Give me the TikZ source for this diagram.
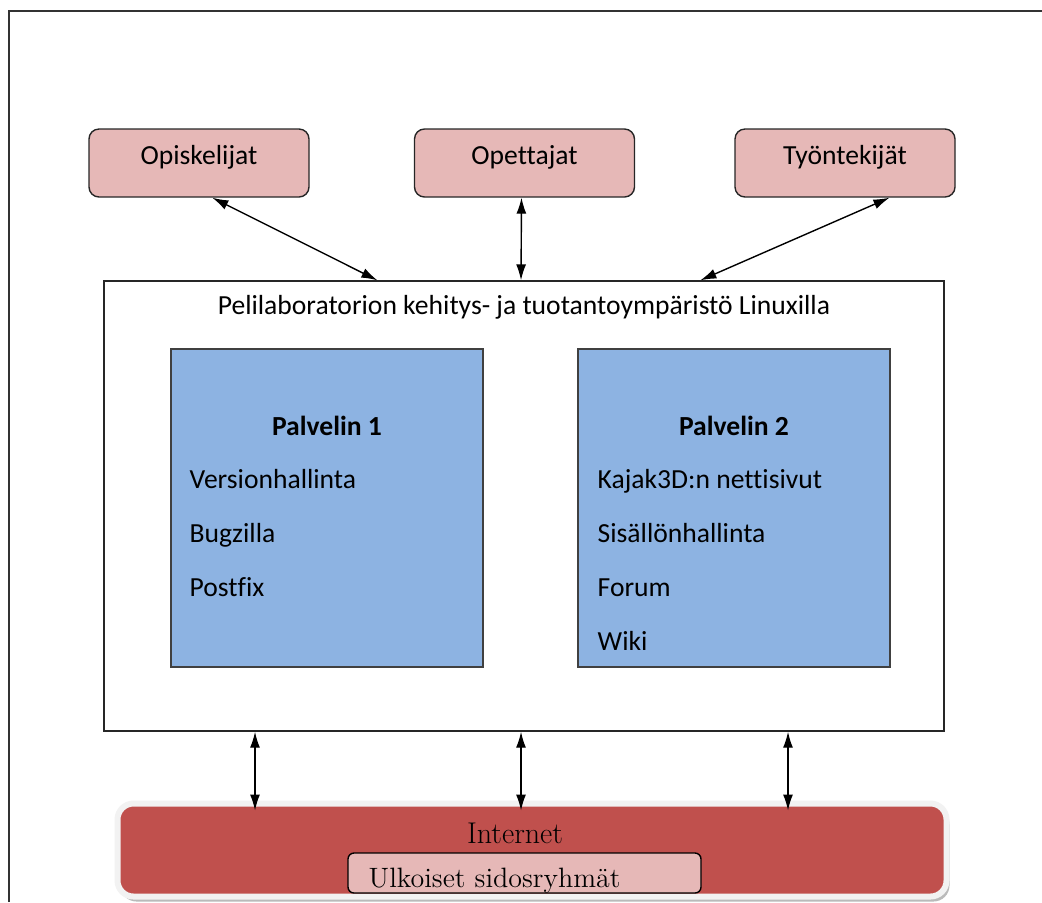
\documentclass[tikz,border=0pt]{standalone}
\usepackage{fontspec}
\setsansfont{Carlito}[Ligatures=NoCommon]
\usetikzlibrary{arrows.meta,shadows}
\definecolor{rose}{HTML}{E6B8B7}
\definecolor{srvblue}{HTML}{8DB3E2}
\definecolor{netred}{HTML}{C0504D}
\newcommand\labfont{\sffamily\fontsize{13.8}{16}\selectfont}
\begin{document}
\begin{tikzpicture}[x=0.5pt,y=-0.5pt,>={Latex[length=8pt,width=5pt]},line width=0.7pt,
    group/.style={draw=black!85, fill=rose, rounded corners=5pt, minimum width=110pt, minimum height=34pt, text height=9.5pt, text depth=8pt, font=\labfont},
    platform/.style={draw=black!85, fill=white, minimum width=420pt, minimum height=225pt},
    server/.style={draw=black!75, fill=srvblue, minimum width=156pt, minimum height=159pt},
    item/.style={anchor=base west, inner sep=0pt, font=\labfont},
    net/.style={draw=black!5, line width=3pt, fill=netred, rounded corners=8pt, minimum width=414.5pt, minimum height=46.5pt,
        drop shadow={shadow xshift=1.5pt, shadow yshift=-2.5pt, fill=black!45, opacity=.6}},
    extbox/.style={draw=black, fill=rose, rounded corners=3pt, minimum width=176.5pt, minimum height=20pt}]
    \useasboundingbox (0,0) rectangle (1042,902);
    \draw[line width=1.3pt, black!80] (9,902) -- (9,11) -- (1042,11);

    \node[group] (opisk) at (199,163) {Opiskelijat};
    \node[group] (opett) at (524.5,163) {Opettajat};
    \node[group] (tyont) at (845,163) {Työntekijät};

    \node[platform] (plat) at (524,506) {};
    \node[font=\labfont] (plattitle) at (524,307) {Pelilaboratorion kehitys- ja tuotantoympäristö Linuxilla};

    \node[server] (srv1) at (327,508) {};
    \node[server] (srv2) at (734,508) {};
    \node[item, anchor=base, font=\labfont\bfseries] (srv1title) at (327,435) {Palvelin 1};
    \node[item, anchor=base, font=\labfont\bfseries] (srv2title) at (734,435) {Palvelin 2};
    \foreach \t [count=\i] in {Versionhallinta,Bugzilla,Postfix}
        \node[item] (srv1-\i) at (189,{434+54*\i}) {\t};
    \foreach \t [count=\i] in {Kajak3D:n nettisivut,Sisällönhallinta,Forum,Wiki}
        \node[item] (srv2-\i) at (597,{434+54*\i}) {\t};

    \node[net] (inet) at (532,850) {};
    \node[font=\fontsize{15}{18}\selectfont] (inettitle) at (515,833) {Internet};
    \node[extbox] (ulk) at (524.5,873) {};
    \node[anchor=base west, inner sep=0pt, font=\fontsize{14}{16}\selectfont] (ulktitle) at (368,887) {Ulkoiset sidosryhmät};

    \path[<->] (opisk.-69) edge (plat.123.5)
               ([xshift=-1.5pt]opett.south) edge ([xshift=-1.5pt]plat.north)
               (tyont.-38.3) edge (plat.52.8);
    \foreach \x in {255,521,788}
        \draw[<->] (plat.south -| \x,0) -- ([yshift=-5pt]inet.north -| \x,0);
\end{tikzpicture}
\end{document}
